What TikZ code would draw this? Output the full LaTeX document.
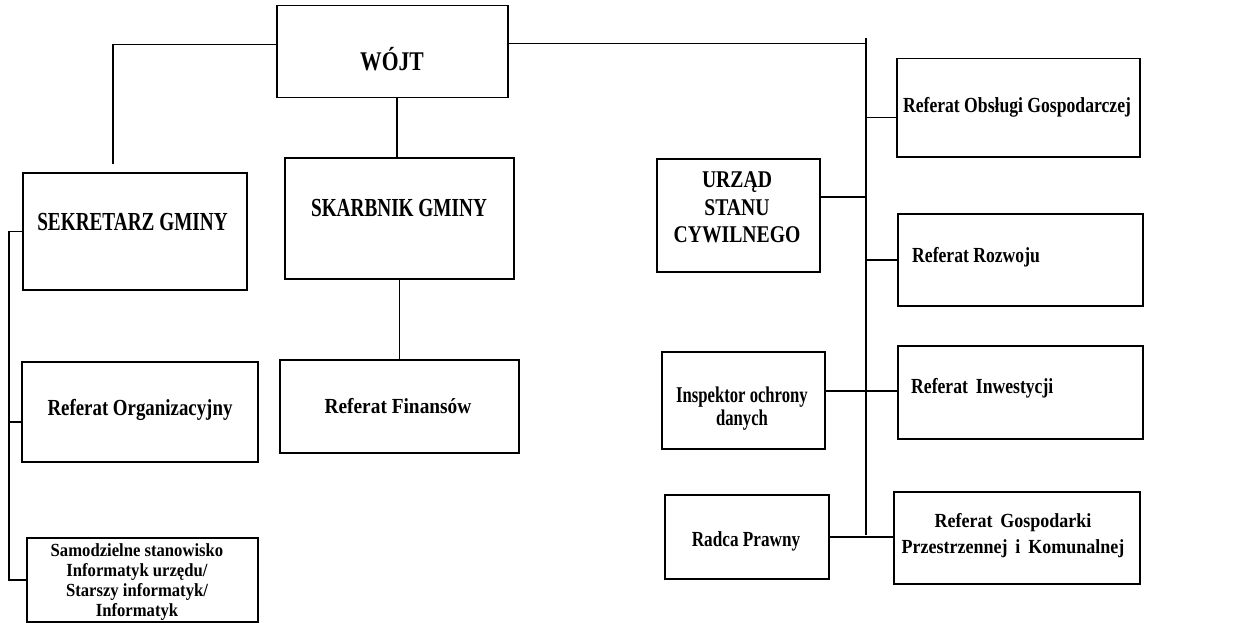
\documentclass[tikz,border=0pt]{standalone}
\usepackage{fontspec}
\setmainfont{Liberation Serif}
\newfontfamily\fS{Liberation Serif}[FakeStretch=0.74]
\newfontfamily\fM{Liberation Serif}[FakeStretch=0.8]
\newfontfamily\fN{Liberation Serif}[FakeStretch=0.82]
\newfontfamily\fW{Liberation Serif}[FakeStretch=0.9]
\newcommand\fsz[3]{#1\bfseries\fontsize{#2}{#3}\selectfont}
\tikzset{
  orgbox/.style={draw, line width=1.5pt, inner sep=0pt, anchor=north west},
  lbl/.style={inner sep=0pt, align=center},
  conn/.style={line width=1.5pt}
}
\begin{document}
\begin{tikzpicture}[x=1pt, y=-1pt]
\fill[white] (0,0) rectangle (1247,623);
\useasboundingbox (0,0) rectangle (1247,623);

% boxes
\node[orgbox, minimum width=231pt, minimum height=92pt]  (wojt)  at (276,5)   {};
\node[orgbox, minimum width=224pt, minimum height=117pt] (sek)   at (22,172)  {};
\node[orgbox, minimum width=229pt, minimum height=121pt] (skarb) at (284,157) {};
\node[orgbox, minimum width=163pt, minimum height=113pt] (usc)   at (656,158) {};
\node[orgbox, minimum width=243pt, minimum height=98pt]  (obsl)  at (896,58)  {};
\node[orgbox, minimum width=245pt, minimum height=92pt]  (rozw)  at (897,213) {};
\node[orgbox, minimum width=236pt, minimum height=100pt] (org)   at (21,361)  {};
\node[orgbox, minimum width=239pt, minimum height=93pt]  (fin)   at (279,359) {};
\node[orgbox, minimum width=231pt, minimum height=84pt]  (samo)  at (26,537)  {};
\node[orgbox, minimum width=163pt, minimum height=97pt]  (insp)  at (661,351) {};
\node[orgbox, minimum width=245pt, minimum height=93pt]  (inw)   at (897,345) {};
\node[orgbox, minimum width=164pt, minimum height=84pt]  (radca) at (664,494) {};
\node[orgbox, minimum width=246pt, minimum height=92pt]  (gosp)  at (893,491) {};

% texts
\node[lbl, anchor=base, font=\fsz{\fM}{27}{30}] (wojt-t)  at (392,71)  {WÓJT};
\node[lbl, anchor=base, font=\fsz{\fS}{26}{29}] (sek-t)   at (132.5,230) {SEKRETARZ GMINY};
\node[lbl, anchor=base, font=\fsz{\fS}{26}{29}] (skarb-t) at (399,216) {SKARBNIK GMINY};
\node[lbl, anchor=center, font=\fsz{\fN}{24}{27.5}] (usc-t) at (737,207.7) {URZĄD\\STANU\\CYWILNEGO};
\node[lbl, anchor=base, font=\fsz{\fN}{21.5}{25}] (obsl-t)  at (1017,113) {Referat Obsługi Gospodarczej};
\node[lbl, anchor=base west, font=\fsz{\fN}{21.5}{25}] (rozw-t) at (912,262) {Referat Rozwoju};
\node[lbl, anchor=base, font=\fsz{\fN}{23}{27}] (org-t)   at (140,415) {Referat Organizacyjny};
\node[lbl, anchor=base, font=\fsz{\fW}{21.5}{25}] (fin-t)   at (398,413) {Referat Finansów};
\node[lbl, anchor=center, font=\fsz{\fW}{18.5}{20}] (samo-t) at (137,581.7) {Samodzielne stanowisko\\Informatyk urzędu/\\Starszy informatyk/\\Informatyk};
\node[lbl, anchor=center, font=\fsz{\fS}{22.5}{23}] (insp-t) at (742,408.3) {Inspektor ochrony\\danych};
\node[lbl, anchor=base west, font=\fsz{\fN}{21.5}{25}] (inw-t) at (911,393) {Referat\, Inwestycji};
\node[lbl, anchor=base, font=\fsz{\fM}{21.5}{24}] (radca-t) at (746,546) {Radca Prawny};
\node[lbl, anchor=center, font=\fsz{\fW}{20}{26}] (gosp-t) at (1013,535.3) {Referat\, Gospodarki\\Przestrzennej\, i\, Komunalnej};

% connector helper points
\coordinate (busTop) at (866,38);
\coordinate (busBot) at (866,535);
\coordinate (lbx) at (9,0);
\coordinate (wL) at ([yshift=7pt]wojt.west);
\coordinate (wR) at ([yshift=8pt]wojt.east);
\coordinate (sekTop) at (113,164);
\coordinate (ws) at ([xshift=4.5pt]wojt.south);
\coordinate (ow) at ([yshift=-10pt]obsl.west);
\coordinate (ue) at ([yshift=18.5pt]usc.east);
\coordinate (ie) at ([yshift=9.5pt]insp.east);
\coordinate (ogw) at ([yshift=-10pt]org.west);

% connectors
\draw[conn] (busTop) -- (busBot);
\draw[conn] (wL) -| (sekTop);
\draw[conn] (wR) -- (wR -| busTop);
\draw[conn] (ws) -- (ws |- skarb.north);
\draw[conn] (skarb.south) -- (skarb.south |- fin.north);
\draw[conn] (sek.west) -- (sek.west -| lbx) -- (samo.west -| lbx) -- (samo.west);
\draw[conn] (ogw) -- (ogw -| lbx);
\draw[conn] (ue) -- (ue -| busTop);
\draw[conn] (ow) -- (ow -| busTop);
\draw[conn] (rozw.west) -- (rozw.west -| busTop);
\draw[conn] (ie) -- (ie -| inw.west);
\draw[conn] (radca.east) -- (radca.east -| gosp.west);
\end{tikzpicture}
\end{document}
